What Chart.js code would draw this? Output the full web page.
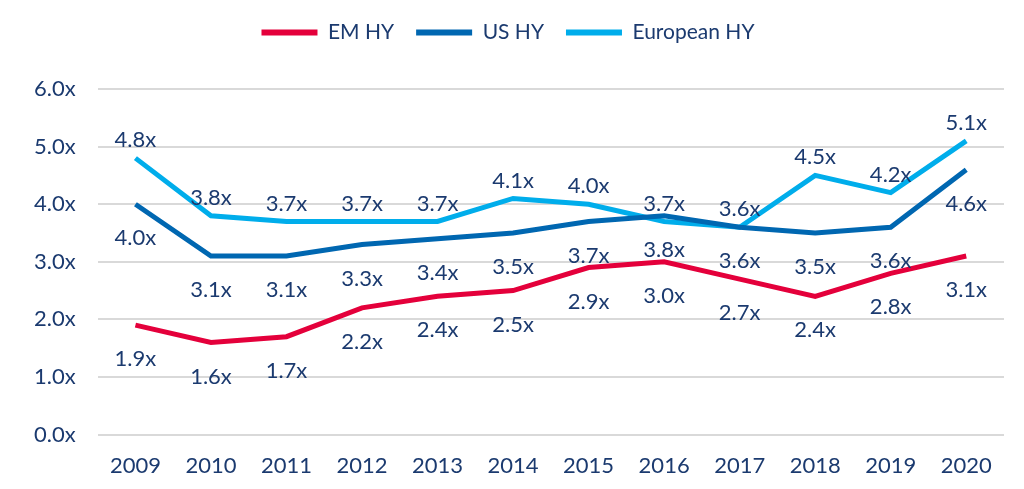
<!DOCTYPE html>
<html>
<head>
<meta charset="utf-8">
<script src="https://cdn.jsdelivr.net/npm/chart.js@4"></script>
<style>
  body { margin: 0; background: #fff; }
  #wrap { width: 1024px; height: 489px; }
</style>
</head>
<body>
<div id="wrap"><canvas id="leverageChart"></canvas></div>
<script>
// Leverage by segment
const years = ['2009', '2010', '2011', '2012', '2013', '2014', '2015', '2016', '2017', '2018', '2019', '2020'];
const emHY = [1.9, 1.6, 1.7, 2.2, 2.4, 2.5, 2.9, 3.0, 2.7, 2.4, 2.8, 3.1];
const usHY = [4.0, 3.1, 3.1, 3.3, 3.4, 3.5, 3.7, 3.8, 3.6, 3.5, 3.6, 4.6];
const euHY = [4.8, 3.8, 3.7, 3.7, 3.7, 4.1, 4.0, 3.7, 3.6, 4.5, 4.2, 5.1];

const navy = '#1b3a6f';
const fontName = 'Lato, "Open Sans", sans-serif';

// Draw value labels (no datalabels plugin offline)
const valueLabels = {
    id: 'valueLabels',
    afterDatasetsDraw(chart) {
        const ctx = chart.ctx;
        ctx.save();
        ctx.font = '22px ' + fontName;
        ctx.fillStyle = navy;
        ctx.textAlign = 'center';
        ctx.textBaseline = 'middle';
        chart.data.datasets.forEach((ds, i) => {
            const meta = chart.getDatasetMeta(i);
            meta.data.forEach((pt, j) => {
                const dy = ds.labelPos === 'above' ? -18 : 34;
                ctx.fillText(ds.data[j].toFixed(1) + 'x', pt.x, pt.y + dy);
            });
        });
        ctx.restore();
    }
};

// Extra room under the legend
const legendSpacer = {
    id: 'legendSpacer',
    afterInit(chart) {
        const fit = chart.legend.fit;
        chart.legend.fit = function() {
            fit.call(this);
            this.height += 36;
        };
    }
};

new Chart(document.getElementById('leverageChart'), {
    type: 'line',
    data: {
        labels: years,
        datasets: [
            { label: 'EM HY', data: emHY, borderColor: '#e4003b', backgroundColor: '#e4003b', labelPos: 'below' },
            { label: 'US HY', data: usHY, borderColor: '#0067b1', backgroundColor: '#0067b1', labelPos: 'below' },
            { label: 'European HY', data: euHY, borderColor: '#00adeb', backgroundColor: '#00adeb', labelPos: 'above' }
        ].map(d => Object.assign(d, { borderWidth: 5, pointRadius: 0, tension: 0, fill: false }))
    },
    options: {
        responsive: true,
        maintainAspectRatio: false,
        animation: false,
        layout: { padding: { left: 12, right: 20, top: 0, bottom: 0 } },
        plugins: {
            tooltip: { enabled: false },
            legend: {
                position: 'top',
                labels: {
                    color: navy,
                    font: { family: fontName, size: 21 },
                    boxWidth: 56,
                    boxHeight: 0,
                    padding: 22,
                    generateLabels(chart) {
                        return chart.data.datasets.map((ds, i) => ({
                            text: ds.label,
                            strokeStyle: ds.borderColor,
                            fillStyle: ds.borderColor,
                            lineWidth: 6,
                            lineCap: 'round',
                            fontColor: navy,
                            datasetIndex: i
                        }));
                    }
                }
            }
        },
        scales: {
            x: {
                offset: true,
                grid: { display: false },
                border: { display: false },
                ticks: { color: navy, font: { family: fontName, size: 22 }, padding: 10 }
            },
            y: {
                min: 0,
                max: 6,
                ticks: {
                    stepSize: 1,
                    color: navy,
                    font: { family: fontName, size: 22 },
                    padding: 22,
                    callback: v => v.toFixed(1) + 'x'
                },
                grid: { color: '#d9d9d9', lineWidth: 2, drawTicks: false },
                border: { display: false }
            }
        }
    },
    plugins: [valueLabels, legendSpacer]
});
</script>
</body>
</html>
